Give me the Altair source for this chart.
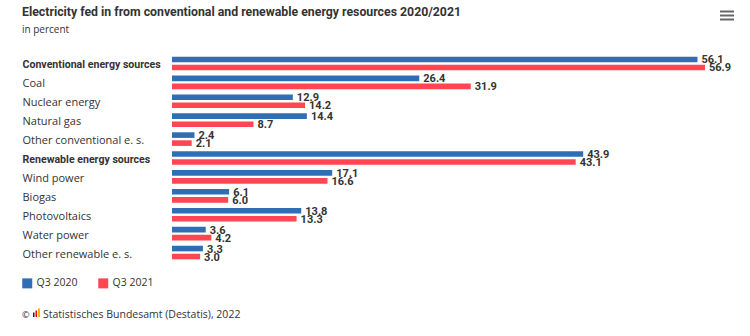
import altair as alt
import pandas as pd

categories = [
    "Conventional energy sources", "Coal", "Nuclear energy", "Natural gas",
    "Other conventional e. s.", "Renewable energy sources", "Wind power",
    "Biogas", "Photovoltaics", "Water power", "Other renewable e. s.",
]
q3_2020 = [56.1, 26.4, 12.9, 14.4, 2.4, 43.9, 17.1, 6.1, 13.8, 3.6, 3.3]
q3_2021 = [56.9, 31.9, 14.2, 8.7, 2.1, 43.1, 16.6, 6.0, 13.3, 4.2, 3.0]
series = ["Q3 2020", "Q3 2021"]

rows = []
for c, a, b in zip(categories, q3_2020, q3_2021):
    rows.append({"category": c, "series": series[0], "value": a})
    rows.append({"category": c, "series": series[1], "value": b})
df = pd.DataFrame(rows)

BOLDF = "Roboto"
REGF = "Open Sans"
TXT = "#333333"
colors = ["#2f6eb5", "#ff4652"]
is_bold = "datum.value == 'Conventional energy sources' || datum.value == 'Renewable energy sources'"

y_enc = alt.Y("category:N", sort=categories, title=None,
              scale=alt.Scale(paddingInner=0.28, paddingOuter=0.14),
              axis=alt.Axis(labelAlign="left", labelPadding=150, domain=False,
                            ticks=False, grid=False, labelColor=TXT, labelLimit=200,
                            labelBaseline="middle", labelOffset=2,
                            labelFontSize=alt.condition(is_bold, alt.value(10.6), alt.value(11)),
                            labelFont=alt.condition(is_bold, alt.value(BOLDF), alt.value(REGF)),
                            labelFontWeight=alt.condition(is_bold, alt.value("bold"), alt.value("normal"))))
yoff = alt.YOffset("series:N", sort=series, scale=alt.Scale(paddingInner=0.3, paddingOuter=0))
x_enc = alt.X("value:Q", scale=alt.Scale(domain=[0, 60], nice=False), axis=None)

base = alt.Chart(df)
bars = base.mark_bar().encode(
    y=y_enc, yOffset=yoff, x=x_enc,
    color=alt.Color("series:N", sort=series,
                    scale=alt.Scale(domain=series, range=colors),
                    legend=alt.Legend(title=None, orient="none", legendX=-150, legendY=224,
                                      direction="horizontal", symbolType="square",
                                      symbolSize=100, symbolStrokeWidth=0,
                                      labelFontSize=10.5, labelColor=TXT, labelFont=REGF,
                                      columnPadding=20, symbolOffset=0)),
)
labels = base.mark_text(align="left", baseline="middle", dx=4, dy=1,
                        fontWeight="bold", fontSize=11, color=TXT, font=BOLDF).encode(
    y=alt.Y("category:N", sort=categories), yOffset=yoff, x="value:Q",
    text=alt.Text("value:Q", format=".1f"),
)

title = alt.Chart(pd.DataFrame({"t": ["Electricity fed in from conventional and renewable energy resources 2020/2021"]})).mark_text(
    align="left", baseline="middle", fontSize=12.3, fontWeight="bold", color=TXT, font=BOLDF
).encode(x=alt.value(-150), y=alt.value(-42), text="t:N")

subtitle = alt.Chart(pd.DataFrame({"t": ["in percent"]})).mark_text(
    align="left", baseline="middle", fontSize=10, color=TXT, font=REGF
).encode(x=alt.value(-150), y=alt.value(-24), text="t:N")

credit = alt.Chart(pd.DataFrame({"t": ["©"]})).mark_text(
    align="left", baseline="middle", fontSize=9, color=TXT, font=REGF
).encode(x=alt.value(-150), y=alt.value(261), text="t:N")

credit2 = alt.Chart(pd.DataFrame({"t": ["Statistisches Bundesamt (Destatis), 2022"]})).mark_text(
    align="left", baseline="middle", fontSize=10.5, color=TXT, font=REGF
).encode(x=alt.value(-129), y=alt.value(261), text="t:N")

logo_df = pd.DataFrame({
    "x1": [-139, -136.5, -134], "x2": [-137.5, -135, -132],
    "y1": [258.5, 256.5, 254.5], "y2": [263, 263, 263],
    "c": ["#222222", "#e30613", "#f5b800"],
})
logo = alt.Chart(logo_df).mark_rect().encode(
    x=alt.X("x1:Q", scale=None), x2="x2:Q",
    y=alt.Y("y1:Q", scale=None), y2="y2:Q",
    color=alt.Color("c:N", scale=None, legend=None),
)

menu = alt.Chart(pd.DataFrame({"y": [-42.5, -38.5, -34.5]})).mark_rule(
    color="#666666", strokeWidth=2
).encode(x=alt.value(548), x2=alt.value(562), y=alt.Y("y:Q", scale=None))

chart = alt.layer(bars, labels, title, subtitle, credit, logo, credit2, menu).resolve_scale(
    color="independent"
).properties(
    width=562, height=208,
    background="white",
    autosize=alt.AutoSizeParams(type="none"),
    padding={"left": 172, "top": 54, "right": 16, "bottom": 74},
).configure_view(strokeWidth=0, stroke=None)

chart.save("out.html", embed_options={"renderer": "svg", "actions": False})
